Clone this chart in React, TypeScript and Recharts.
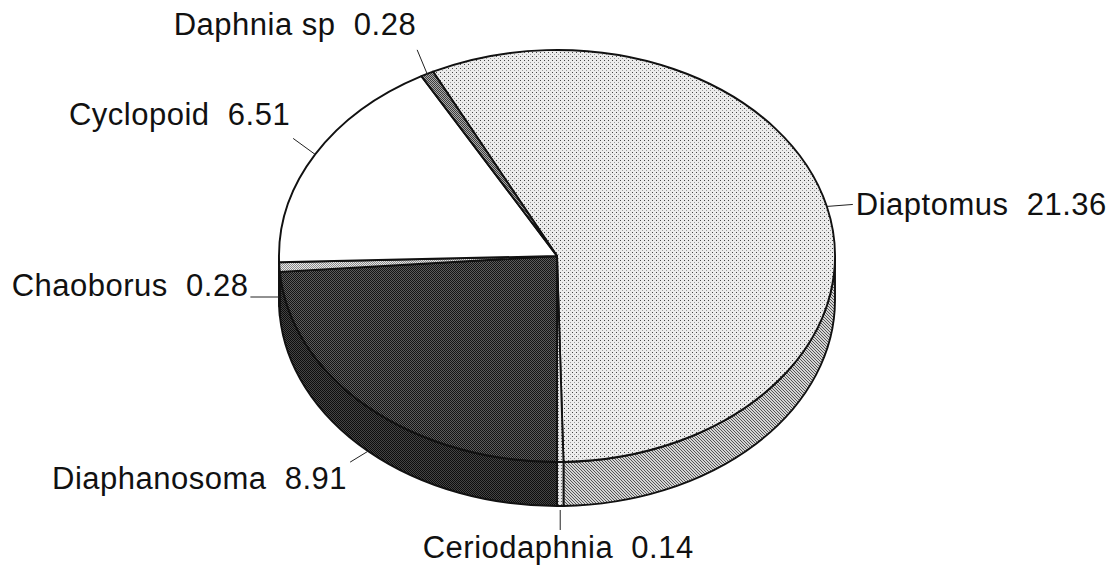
import React from "react";
import { PieChart, Pie } from "recharts";

// values
const categories = ["Diaptomus", "Ceriodaphnia", "Diaphanosoma", "Chaoborus", "Cyclopoid", "Daphnia sp"];
const values = [21.36, 0.14, 8.91, 0.28, 6.51, 0.28];
const valueLabels = ["21.36", "0.14", "8.91", "0.28", "6.51", "0.28"];

// styles
const topFills = ["url(#dotLight)", "url(#dotCerio)", "url(#darkCheck)", "url(#lightCheck)", "#ffffff", "url(#midCheck)"];
const sideFills = ["url(#hatch)", "url(#dotCerio)", "url(#darkSide)", "url(#lightCheck)", "#ffffff", "url(#midCheck)"];

// label placement: extra anchor shift, leader end, text offset from leader end
const labelLayout = [
  { ady: 0, lx: 26, ly: -2, tx: 3, ty: 0, anchor: "start" },
  { ady: 4, lx: 0, ly: 20, tx: -2, ty: 18, anchor: "middle" },
  { ady: 0, lx: -18, ly: 11, tx: -3, ty: 16, anchor: "end" },
  { ady: -14, lx: -29, ly: 0, tx: -2, ty: -12, anchor: "end" },
  { ady: 0, lx: -22, ly: -16, tx: -3, ty: -24, anchor: "end" },
  { ady: 0, lx: -10, ly: -24, tx: -1, ty: -25, anchor: "end" },
];

const W = 1114;
const H = 574;
const CX = 557;
const CY = 256;
const RX = 278;
const RY = 206;
const DEPTH = 44;
const START = 116.5;

const data = categories.map((name, i) => ({
  name,
  value: values[i],
  topFill: topFills[i],
  sideFill: sideFills[i],
}));

const pt = (cx: number, cy: number, deg: number) => {
  const r = (deg * Math.PI) / 180;
  return [cx + RX * Math.cos(r), cy - RY * Math.sin(r)];
};

function TopSector(props: any) {
  const { cx, cy, startAngle, endAngle, payload } = props;
  const s = Math.max(startAngle, endAngle);
  const e = Math.min(startAngle, endAngle);
  const p1 = pt(cx, cy, s);
  const p2 = pt(cx, cy, e);
  const large = s - e > 180 ? 1 : 0;
  const d = `M${cx},${cy} L${p1[0]},${p1[1]} A${RX},${RY} 0 ${large} 1 ${p2[0]},${p2[1]} Z`;
  return <path d={d} fill={payload?.topFill ?? props.topFill} stroke="#111" strokeWidth={1.9} strokeLinejoin="round" />;
}

function SideSector(props: any) {
  const { cx, cy, startAngle, endAngle, payload } = props;
  const s = Math.max(startAngle, endAngle);
  const e = Math.min(startAngle, endAngle);
  const fill = payload?.sideFill ?? props.sideFill;
  const parts: React.ReactNode[] = [];
  // only the front half of the rim is visible
  for (let k = -2; k <= 2; k++) {
    const lo = Math.max(e, -180 + 360 * k);
    const hi = Math.min(s, 360 * k);
    if (hi - lo <= 0.01) continue;
    const a = pt(cx, cy, hi);
    const b = pt(cx, cy, lo);
    const d =
      `M${a[0]},${a[1]} A${RX},${RY} 0 0 1 ${b[0]},${b[1]} ` +
      `L${b[0]},${b[1] + DEPTH} A${RX},${RY} 0 0 0 ${a[0]},${a[1] + DEPTH} Z`;
    parts.push(<path key={k} d={d} fill={fill} stroke="#111" strokeWidth={1.9} strokeLinejoin="round" />);
  }
  return <g>{parts}</g>;
}

function renderLabel(props: any) {
  const { cx, cy, midAngle, index } = props;
  const L = labelLayout[index];
  const a = pt(cx, cy, midAngle);
  const ay = a[1] + (Math.sin((midAngle * Math.PI) / 180) < 0 ? DEPTH : 0) + L.ady;
  const ex = a[0] + L.lx;
  const ey = ay + L.ly;
  return (
    <g key={`lbl-${index}`}>
      <line x1={a[0]} y1={ay} x2={ex} y2={ey} stroke="#222" strokeWidth={1} />
      <text
        x={ex + L.tx}
        y={ey + L.ty}
        textAnchor={L.anchor}
        dominantBaseline="central"
        fontFamily="'Liberation Sans', Arial, sans-serif"
        fontSize={31}
        letterSpacing={0.5}
        fill="#111"
        style={{ whiteSpace: "pre" }}
      >
        {`${categories[index]}  ${valueLabels[index]}`}
      </text>
    </g>
  );
}

export default function App() {
  return (
    <div style={{ position: "absolute", left: 0, top: 0, width: W, height: H, background: "#fff" }}>
      <PieChart width={W} height={H} margin={{ top: 0, right: 0, bottom: 0, left: 0 }}>
        <defs>
          <pattern id="dotLight" width="4" height="4" patternUnits="userSpaceOnUse">
            <rect width="4" height="4" fill="#ececec" />
            <rect x="0" y="0" width="1" height="1" fill="#444" />
            <rect x="2" y="2" width="1" height="1" fill="#999" />
          </pattern>
          <pattern id="dotCerio" width="3" height="3" patternUnits="userSpaceOnUse">
            <rect width="3" height="3" fill="#e6e6e6" />
            <rect x="0" y="0" width="1" height="1" fill="#666" />
          </pattern>
          <pattern id="darkCheck" width="2" height="2" patternUnits="userSpaceOnUse">
            <rect width="2" height="2" fill="#5c5c5c" />
            <rect x="0" y="0" width="1" height="1" fill="#141414" />
            <rect x="1" y="1" width="1" height="1" fill="#141414" />
          </pattern>
          <pattern id="darkSide" width="2" height="2" patternUnits="userSpaceOnUse">
            <rect width="2" height="2" fill="#444" />
            <rect x="0" y="0" width="1" height="1" fill="#0d0d0d" />
            <rect x="1" y="1" width="1" height="1" fill="#0d0d0d" />
          </pattern>
          <pattern id="lightCheck" width="2" height="2" patternUnits="userSpaceOnUse">
            <rect width="2" height="2" fill="#e8e8e8" />
            <rect x="0" y="0" width="1" height="1" fill="#8a8a8a" />
            <rect x="1" y="1" width="1" height="1" fill="#8a8a8a" />
          </pattern>
          <pattern id="midCheck" width="2" height="2" patternUnits="userSpaceOnUse">
            <rect width="2" height="2" fill="#aaa" />
            <rect x="0" y="0" width="1" height="1" fill="#3c3c3c" />
            <rect x="1" y="1" width="1" height="1" fill="#3c3c3c" />
          </pattern>
          <pattern id="hatch" width="3" height="3" patternUnits="userSpaceOnUse">
            <rect width="3" height="3" fill="#d4d4d4" />
            <rect x="0" y="0" width="1" height="1" fill="#555" />
            <rect x="1" y="1" width="1" height="1" fill="#555" />
            <rect x="2" y="2" width="1" height="1" fill="#555" />
          </pattern>
        </defs>
        <Pie
          data={data}
          dataKey="value"
          nameKey="name"
          cx={CX}
          cy={CY}
          outerRadius={RX}
          startAngle={START}
          endAngle={START - 360}
          shape={(p: any) => <SideSector {...p} />}
          label={false}
          labelLine={false}
          isAnimationActive={false}
        />
        <Pie
          data={data}
          dataKey="value"
          nameKey="name"
          cx={CX}
          cy={CY}
          outerRadius={RX}
          startAngle={START}
          endAngle={START - 360}
          shape={(p: any) => <TopSector {...p} />}
          label={renderLabel}
          labelLine={false}
          isAnimationActive={false}
        />
      </PieChart>
    </div>
  );
}
